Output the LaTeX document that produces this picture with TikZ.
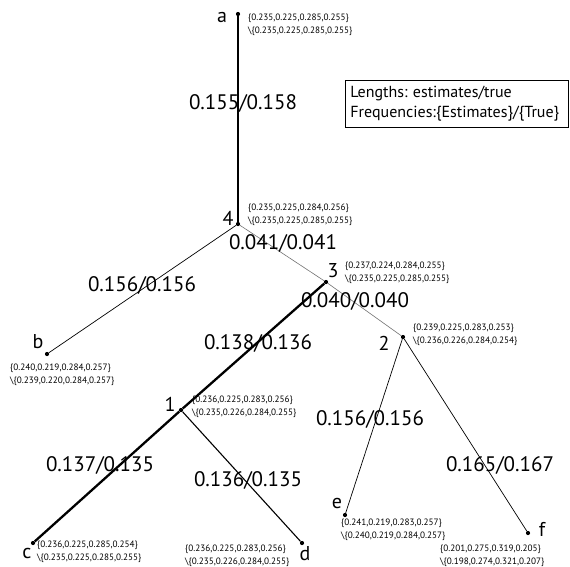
\documentclass[tikz,border=0pt]{standalone}
\usepackage{fontspec}
\setmainfont{PT Sans}
\frenchspacing
\tikzset{
  vtx/.style={circle,fill=black,inner sep=0pt,minimum size=4.2pt},
  freq/.style={font=\fontsize{9.2}{12.8}\selectfont,align=left,inner sep=0pt},
  taxon/.style={font=\fontsize{20}{20}\selectfont,inner sep=0pt},
  blen/.style={font=\fontsize{21}{21}\selectfont,inner sep=0pt},
  heavy/.style={line width=2.3pt},
  light/.style={line width=0.6pt,black!55},
  plain/.style={line width=0.7pt}
}
\begin{document}
\begin{tikzpicture}[x=1pt,y=-1pt]
  \useasboundingbox (0,0) rectangle (570,566);
  % vertices
  \node[vtx] (a) at (238,14) {};
  \node[vtx] (n4) at (238,224) {};
  \node[vtx] (n3) at (326,282) {};
  \node[vtx] (b) at (47,354) {};
  \node[vtx] (n1) at (181,410) {};
  \node[vtx] (n2) at (403,337) {};
  \node[vtx] (c) at (33,543) {};
  \node[vtx] (d) at (302,543) {};
  \node[vtx] (e) at (345,515) {};
  \node[vtx] (f) at (528,533) {};
  % edges
  \draw[heavy] (a) -- (n4);
  \draw[light] (n4) -- (n3);
  \draw[plain] (n4) -- (b);
  \draw[heavy] (n3) -- (n1);
  \draw[light] (n3) -- (n2);
  \draw[heavy] (n1) -- (c);
  \draw[line width=1.1pt] (n1) -- (d);
  \draw[plain] (n2) -- (e);
  \draw[plain] (n2) -- (f);
  % vertex names
  \node[taxon] (la) at (222,17) {a};
  \node[taxon] (l4) at (228,218) {4};
  \node[taxon] (l3) at (333,271) {3};
  \node[taxon] (lb) at (38,342) {b};
  \node[taxon] (l1) at (170,404) {1};
  \node[taxon] (l2) at (384,343) {2};
  \node[taxon] (lc) at (27,553) {c};
  \node[taxon] (ld) at (305,554) {d};
  \node[taxon] (le) at (337,503) {e};
  \node[taxon] (lf) at (542,529) {f};
  % frequencies
  \node[freq,anchor=west] (fa) at (248,24.5) {\{0.235,0.225,0.285,0.255\}\\\textbackslash\{0.235,0.225,0.285,0.255\}};
  \node[freq,anchor=west] (f4) at (248,214.5) {\{0.235,0.225,0.284,0.256\}\\\textbackslash\{0.235,0.225,0.285,0.255\}};
  \node[freq,anchor=west] (f3) at (345,273) {\{0.237,0.224,0.284,0.255\}\\\textbackslash\{0.235,0.225,0.285,0.255\}};
  \node[freq,anchor=west] (fb) at (10,374.5) {\{0.240,0.219,0.284,0.257\}\\\textbackslash\{0.239,0.220,0.284,0.257\}};
  \node[freq,anchor=west] (f1) at (192,406.5) {\{0.236,0.225,0.283,0.256\}\\\textbackslash\{0.235,0.226,0.284,0.255\}};
  \node[freq,anchor=west] (f2) at (413,335) {\{0.239,0.225,0.283,0.253\}\\\textbackslash\{0.236,0.226,0.284,0.254\}};
  \node[freq,anchor=west] (fc) at (37,552) {\{0.236,0.225,0.285,0.254\}\\\textbackslash\{0.235,0.225,0.285,0.255\}};
  \node[freq,anchor=west] (fd) at (185,556) {\{0.236,0.225,0.283,0.256\}\\\textbackslash\{0.235,0.226,0.284,0.255\}};
  \node[freq,anchor=west] (fe) at (341,529.5) {\{0.241,0.219,0.283,0.257\}\\\textbackslash\{0.240,0.219,0.284,0.257\}};
  \node[freq,anchor=west] (ff) at (440,556) {\{0.201,0.275,0.319,0.205\}\\\textbackslash\{0.198,0.274,0.321,0.207\}};
  % branch lengths
  \node[blen] (ea4) at (243,103) {0.155/0.158};
  \node[blen] (e43) at (283,243) {0.041/0.041};
  \node[blen] (e4b) at (142,285) {0.156/0.156};
  \node[blen] (e32) at (355,301) {0.040/0.040};
  \node[blen] (e31) at (258,343) {0.138/0.136};
  \node[blen] (e2e) at (370,419) {0.156/0.156};
  \node[blen] (e1c) at (100,465) {0.137/0.135};
  \node[blen] (e1d) at (248,480) {0.136/0.135};
  \node[blen] (e2f) at (500,465) {0.165/0.167};
  % legend
  \node[draw,line width=0.7pt,align=left,inner sep=0pt,inner xsep=5pt,text width=213pt,minimum height=47pt,font=\fontsize{16}{20}\selectfont,anchor=north west] (key) at (345,80) {Lengths: estimates/true\\Frequencies:\{Estimates\}/\{True\}};
\end{tikzpicture}
\end{document}
